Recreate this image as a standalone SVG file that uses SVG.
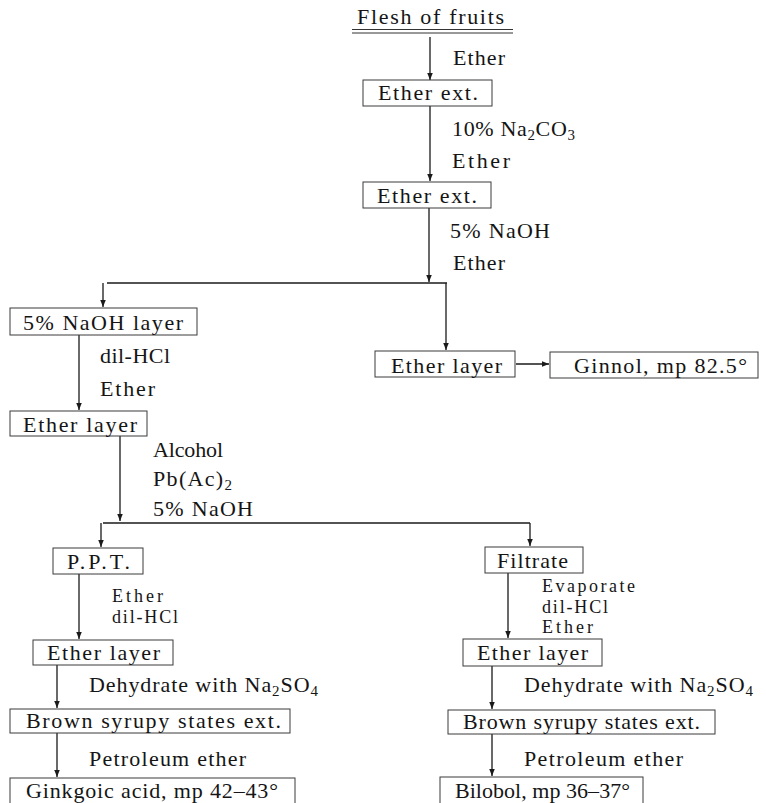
<svg xmlns="http://www.w3.org/2000/svg" width="766" height="803" viewBox="0 0 766 803">
<defs>
<style>
text{font-family:"Liberation Serif","DejaVu Serif",serif;font-size:22px;fill:#151515}
text.tight{font-size:18px}
.sub{font-size:15px}
.tight .sub{font-size:13px}
.box{fill:none;stroke:#3a3a3a;stroke-width:1}
.con{fill:none;stroke:#1a1a1a;stroke-width:1.3}
</style>
<marker id="ah" markerUnits="userSpaceOnUse" markerWidth="8" markerHeight="6" refX="7" refY="2.75" orient="auto">
<path d="M0,0 L7,2.75 L0,5.5 z" fill="#1a1a1a"/>
</marker>
</defs>
<rect width="766" height="803" fill="#fff"/>

<g id="connectors">
<line class="con" x1="430" y1="37" x2="430" y2="80" marker-end="url(#ah)"/>
<line class="con" x1="430" y1="106" x2="430" y2="181" marker-end="url(#ah)"/>
<line class="con" x1="429" y1="208" x2="429" y2="282" marker-end="url(#ah)"/>
<line class="con" x1="107" y1="283" x2="447" y2="283"/>
<line class="con" x1="103" y1="283" x2="103" y2="307" marker-end="url(#ah)"/>
<line class="con" x1="446" y1="283" x2="446" y2="350" marker-end="url(#ah)"/>
<line class="con" x1="79" y1="335" x2="79" y2="410" marker-end="url(#ah)"/>
<line class="con" x1="516" y1="364" x2="549" y2="364" marker-end="url(#ah)"/>
<line class="con" x1="120" y1="436" x2="120" y2="521" marker-end="url(#ah)"/>
<line class="con" x1="103" y1="523" x2="530" y2="523"/>
<line class="con" x1="101" y1="523" x2="101" y2="547" marker-end="url(#ah)"/>
<line class="con" x1="530" y1="523" x2="530" y2="546" marker-end="url(#ah)"/>
<line class="con" x1="79" y1="574" x2="79" y2="639" marker-end="url(#ah)"/>
<line class="con" x1="508" y1="573" x2="508" y2="638" marker-end="url(#ah)"/>
<line class="con" x1="57" y1="665" x2="57" y2="708" marker-end="url(#ah)"/>
<line class="con" x1="492" y1="666" x2="492" y2="709" marker-end="url(#ah)"/>
<line class="con" x1="57" y1="733" x2="57" y2="777" marker-end="url(#ah)"/>
<line class="con" x1="492" y1="734" x2="492" y2="776" marker-end="url(#ah)"/>
</g>

<g id="labels">
<text x="453" y="65" textLength="52" lengthAdjust="spacing">Ether</text>
<text x="452" y="136" textLength="123" lengthAdjust="spacing">10% Na<tspan class="sub" dy="4">2</tspan><tspan dy="-4">CO</tspan><tspan class="sub" dy="4">3</tspan></text>
<text x="452" y="168" textLength="58" lengthAdjust="spacing">Ether</text>
<text x="450" y="238" textLength="100" lengthAdjust="spacing">5% NaOH</text>
<text x="453" y="270" textLength="52" lengthAdjust="spacing">Ether</text>
<text x="100" y="363" textLength="70" lengthAdjust="spacing">dil-HCl</text>
<text x="100" y="396" textLength="55" lengthAdjust="spacing">Ether</text>
<text x="153" y="457" textLength="70" lengthAdjust="spacing">Alcohol</text>
<text x="153" y="486" textLength="79" lengthAdjust="spacing">Pb(Ac)<tspan class="sub" dy="4">2</tspan></text>
<text x="153" y="516" textLength="100" lengthAdjust="spacing">5% NaOH</text>
<text class="tight" x="112" y="602" textLength="51" lengthAdjust="spacing">Ether</text>
<text class="tight" x="112" y="623" textLength="66" lengthAdjust="spacing">dil-HCl</text>
<text class="tight" x="542" y="592" textLength="93" lengthAdjust="spacing">Evaporate</text>
<text class="tight" x="542" y="612.5" textLength="66" lengthAdjust="spacing">dil-HCl</text>
<text class="tight" x="542" y="633" textLength="51" lengthAdjust="spacing">Ether</text>
<text x="89" y="692" textLength="229" lengthAdjust="spacing">Dehydrate with Na<tspan class="sub" dy="4">2</tspan><tspan dy="-4">SO</tspan><tspan class="sub" dy="4">4</tspan></text>
<text x="89" y="766" textLength="157" lengthAdjust="spacing">Petroleum ether</text>
<text x="524" y="692" textLength="229" lengthAdjust="spacing">Dehydrate with Na<tspan class="sub" dy="4">2</tspan><tspan dy="-4">SO</tspan><tspan class="sub" dy="4">4</tspan></text>
<text x="524" y="766" textLength="159" lengthAdjust="spacing">Petroleum ether</text>
</g>

<g id="n-flesh">
<text x="357" y="24" textLength="147" lengthAdjust="spacing">Flesh of fruits</text>
<line x1="352" y1="29.5" x2="513" y2="29.5" stroke="#333" stroke-width="1"/>
<line x1="352" y1="33" x2="513" y2="33" stroke="#333" stroke-width="1"/>
</g>
<g id="n-ether-ext-1">
<rect class="box" x="363" y="80" width="129" height="26"/>
<text x="378" y="100" textLength="100" lengthAdjust="spacing">Ether ext.</text>
</g>
<g id="n-ether-ext-2">
<rect class="box" x="363" y="182" width="128" height="26"/>
<text x="377" y="203" textLength="100" lengthAdjust="spacing">Ether ext.</text>
</g>
<g id="n-naoh-layer">
<rect class="box" x="10" y="308" width="187" height="27"/>
<text x="23" y="330" textLength="160" lengthAdjust="spacing">5% NaOH layer</text>
</g>
<g id="n-ether-layer-r">
<rect class="box" x="375" y="351" width="140" height="26"/>
<text x="391" y="373" textLength="111" lengthAdjust="spacing">Ether layer</text>
</g>
<g id="n-ginnol">
<rect class="box" x="550" y="352" width="208" height="26"/>
<text x="574" y="373" textLength="173" lengthAdjust="spacing">Ginnol, mp 82.5°</text>
</g>
<g id="n-ether-layer-l">
<rect class="box" x="10" y="411" width="137" height="25"/>
<text x="23" y="432" textLength="114" lengthAdjust="spacing">Ether layer</text>
</g>
<g id="n-ppt">
<rect class="box" x="53" y="548" width="90" height="26"/>
<text x="67" y="569" textLength="63" lengthAdjust="spacing">P.P.T.</text>
</g>
<g id="n-filtrate">
<rect class="box" x="485" y="547" width="98" height="26"/>
<text x="497" y="568" textLength="71" lengthAdjust="spacing">Filtrate</text>
</g>
<g id="n-ether-layer-ppt">
<rect class="box" x="33" y="640" width="140" height="25"/>
<text x="47" y="660" textLength="113" lengthAdjust="spacing">Ether layer</text>
</g>
<g id="n-ether-layer-fil">
<rect class="box" x="463" y="639" width="139" height="27"/>
<text x="477" y="660" textLength="111" lengthAdjust="spacing">Ether layer</text>
</g>
<g id="n-brown-l">
<rect class="box" x="10" y="709" width="280" height="24"/>
<text x="26" y="728" textLength="255" lengthAdjust="spacing">Brown syrupy states ext.</text>
</g>
<g id="n-brown-r">
<rect class="box" x="448" y="710" width="267" height="24"/>
<text x="463" y="729" textLength="237" lengthAdjust="spacing">Brown syrupy states ext.</text>
</g>
<g id="n-ginkgoic">
<rect class="box" x="10" y="778" width="285" height="40"/>
<text x="26" y="798" textLength="252" lengthAdjust="spacing">Ginkgoic acid, mp 42–43°</text>
</g>
<g id="n-bilobol">
<rect class="box" x="440" y="777" width="203" height="40"/>
<text x="455" y="798" textLength="175" lengthAdjust="spacing">Bilobol, mp 36–37°</text>
</g>
</svg>
